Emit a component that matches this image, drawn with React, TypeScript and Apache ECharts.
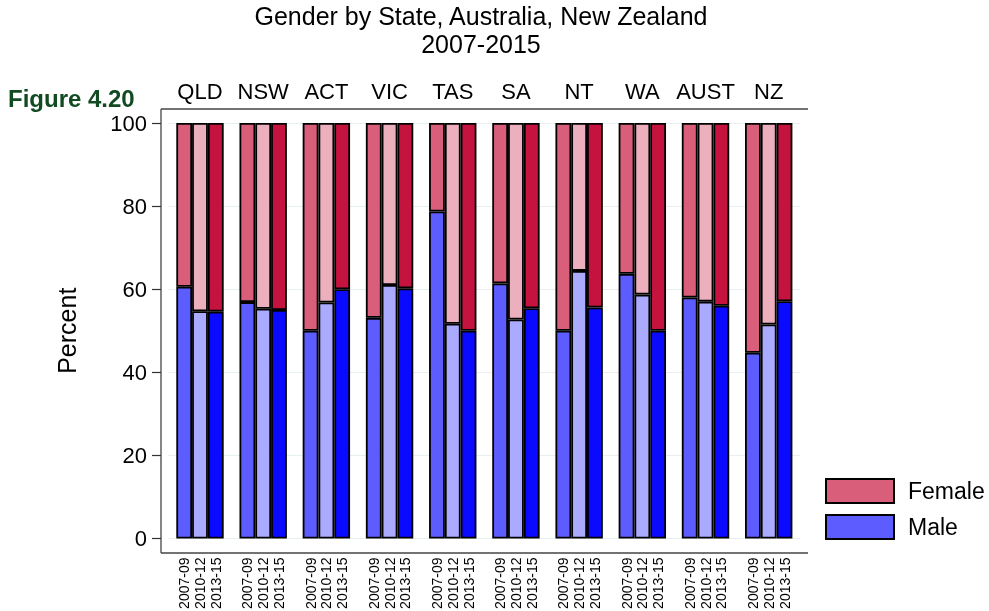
import React, { useEffect, useRef } from "react";
import * as echarts from "echarts";

const states = ["QLD", "NSW", "ACT", "VIC", "TAS", "SA", "NT", "WA", "AUST", "NZ"];
const periods = ["2007-09", "2010-12", "2013-15"];
const male0709 = [60.6, 56.9, 50.0, 53.1, 78.7, 61.4, 50.0, 63.7, 58.0, 44.7];
const male1012 = [54.7, 55.3, 56.8, 61.0, 51.7, 52.7, 64.4, 58.7, 57.0, 51.5];
const male1315 = [54.6, 55.0, 60.0, 60.2, 50.0, 55.4, 55.6, 50.0, 56.0, 57.1];
const yTicks = [0, 20, 40, 60, 80, 100];

const maleSets = [male0709, male1012, male1315];
const femaleSets = maleSets.map((arr) => arr.map((v) => +(100 - v).toFixed(1)));
const maleColors = ["#5c5cff", "#aaaaff", "#0a0aff"];
const femaleColors = ["#d95e7a", "#ecafbd", "#c4133e"];

export default function App() {
  const ref = useRef<HTMLDivElement>(null);
  useEffect(() => {
    if (!ref.current) return;
    const chart = echarts.init(ref.current, null, { renderer: "svg" });
    const font = "Liberation Sans, Arial, Helvetica, sans-serif";
    const series: any[] = [];
    maleSets.forEach((arr, i) => {
      series.push({
        name: "Male",
        type: "bar",
        stack: "s" + i,
        data: arr,
        barWidth: 15.8,
        barGap: "0%",
        itemStyle: { color: maleColors[i], borderColor: "#000", borderWidth: 1.8 },
        label: {
          show: true,
          position: "bottom",
          distance: 19,
          rotate: 90,
          align: "right",
          verticalAlign: "middle",
          formatter: () => periods[i],
          fontSize: 14,
          color: "#000",
          fontFamily: font,
        },
      });
    });
    femaleSets.forEach((arr, i) => {
      series.push({
        name: "Female",
        type: "bar",
        stack: "s" + i,
        data: arr,
        barWidth: 15.8,
        barGap: "0%",
        itemStyle: { color: femaleColors[i], borderColor: "#000", borderWidth: 1.8 },
      });
    });

    chart.setOption({
      animation: false,
      textStyle: { fontFamily: font },
      title: {
        text: "Gender by State, Australia, New Zealand\n2007-2015",
        left: 481,
        top: 2,
        padding: 0,
        textAlign: "center",
        textStyle: { fontSize: 25, lineHeight: 28, fontWeight: "normal", color: "#000", fontFamily: font },
      },
      legend: {
        data: ["Female", "Male"],
        orient: "vertical",
        left: 825,
        top: 478,
        padding: 0,
        itemWidth: 68,
        itemHeight: 24,
        itemGap: 10,
        icon: "rect",
        textStyle: { fontSize: 23, color: "#000", fontFamily: font, padding: [0, 0, 0, 9] },
        selectedMode: false,
      },
      grid: { left: 168.4, right: 989 - 800.3, top: 123, bottom: 611 - 538.5 },
      xAxis: {
        type: "category",
        position: "top",
        data: states,
        axisLine: { show: false },
        axisTick: { show: false },
        axisLabel: { interval: 0, fontSize: 22, color: "#000", margin: 21, fontFamily: font },
      },
      yAxis: {
        type: "value",
        min: 0,
        max: 100,
        interval: 20,
        offset: 7.4,
        name: "Percent",
        nameLocation: "middle",
        nameGap: 82,
        nameRotate: 90,
        nameTextStyle: { fontSize: 25, color: "#000", fontFamily: font },
        axisLine: { show: false },
        axisTick: { show: true, length: 9, lineStyle: { color: "#333", width: 1.2 } },
        axisLabel: {
          fontSize: 22,
          color: "#000",
          margin: 14,
          fontFamily: font,
          formatter: (v: number) => (yTicks.includes(v) ? String(v) : ""),
        },
        splitLine: { show: true, lineStyle: { color: "#e8eff0", width: 1 } },
      },
      graphic: [
        { type: "line", shape: { x1: 161, y1: 109, x2: 808, y2: 109 }, style: { stroke: "#444", lineWidth: 1.3 } },
        { type: "line", shape: { x1: 161, y1: 109, x2: 161, y2: 553 }, style: { stroke: "#444", lineWidth: 1.3 } },
        { type: "line", shape: { x1: 161, y1: 553, x2: 808, y2: 553 }, style: { stroke: "#444", lineWidth: 1.3 } },
        {
          type: "text",
          left: 8,
          top: 86,
          style: { text: "Figure 4.20", fontSize: 24, fontWeight: "bold", fill: "#124a22", fontFamily: font },
        },
      ],
      series,
    });
    return () => chart.dispose();
  }, []);
  return <div ref={ref} style={{ position: "fixed", left: 0, top: 0, width: 989, height: 611 }} />;
}
